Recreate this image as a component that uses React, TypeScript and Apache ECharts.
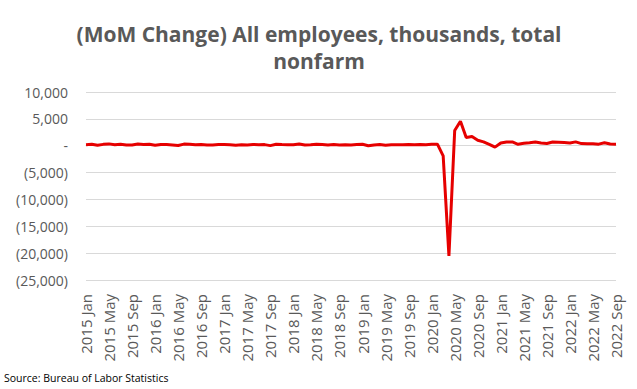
import React, { useEffect, useRef } from "react";
import * as echarts from "echarts";

const months = ["Jan","Feb","Mar","Apr","May","Jun","Jul","Aug","Sep","Oct","Nov","Dec"];
const years = [2015, 2016, 2017, 2018, 2019, 2020, 2021, 2022];
const categories: string[] = [];
years.forEach((y) => months.forEach((m, i) => { if (y < 2022 || i < 9) categories.push(`${y} ${m}`); }));

const values2015 = [190, 271, 70, 251, 340, 182, 277, 150, 145, 319, 237, 269];
const values2016 = [73, 237, 222, 153, 34, 301, 293, 163, 233, 142, 155, 231];
const values2017 = [209, 180, 90, 186, 142, 226, 190, 207, 18, 263, 216, 186];
const values2018 = [179, 325, 131, 175, 279, 228, 133, 226, 131, 196, 146, 219];
const values2019 = [283, 1, 147, 216, 85, 185, 202, 190, 225, 188, 211, 170];
const values2020 = [283, 289, -1900, -20500, 2833, 4559, 1527, 1702, 1012, 717, 265, -268];
const values2021 = [520, 710, 704, 263, 447, 557, 689, 517, 424, 677, 647, 588];
const values2022 = [504, 714, 398, 368, 386, 293, 537, 315, 263];
const values = [...values2015, ...values2016, ...values2017, ...values2018, ...values2019, ...values2020, ...values2021, ...values2022];

const titleText = "(MoM Change) All employees, thousands, total\nnonfarm";
const sourceText = "Source: Bureau of Labor Statistics";

const fmt = (v: number) => {
  if (v === 0) return "-";
  const s = Math.abs(v).toLocaleString("en-US");
  return v < 0 ? `(${s})` : s;
};

export default function App() {
  const ref = useRef<HTMLDivElement>(null);
  useEffect(() => {
    if (!ref.current) return;
    const chart = echarts.init(ref.current, null, { renderer: "svg" });
    const font = "'Open Sans', sans-serif";
    chart.setOption({
      animation: false,
      backgroundColor: "#ffffff",
      title: {
        text: titleText,
        left: 314,
        textAlign: "center",
        top: 15,
        textStyle: { fontFamily: font, fontWeight: "bold", fontSize: 21, color: "#595959", lineHeight: 27 },
      },
      graphic: [
        { type: "text", left: 4, top: 372, style: { text: sourceText, fontFamily: font, fontSize: 10.5, fill: "#000000" } },
      ],
      grid: { left: 86, right: 21, top: 92, bottom: 109, containLabel: false },
      xAxis: {
        type: "category",
        data: categories,
        boundaryGap: false,
        axisLine: { lineStyle: { color: "#d9d9d9" } },
        axisTick: { show: false },
        axisLabel: { rotate: 90, interval: 3, color: "#595959", fontFamily: font, fontSize: 15, margin: 14 },
      },
      yAxis: {
        type: "value",
        min: -25000,
        max: 10000,
        interval: 5000,
        axisLine: { show: false },
        axisTick: { show: false },
        splitLine: { lineStyle: { color: "#d9d9d9" } },
        axisLabel: { formatter: fmt, color: "#595959", fontFamily: font, fontSize: 14, margin: 18 },
      },
      series: [
        {
          type: "line",
          data: values,
          symbol: "none",
          lineStyle: { color: "#e60000", width: 3 },
        },
      ],
    });
    return () => chart.dispose();
  }, []);
  return <div ref={ref} style={{ width: 637, height: 389, position: "absolute", left: 0, top: 0 }} />;
}
